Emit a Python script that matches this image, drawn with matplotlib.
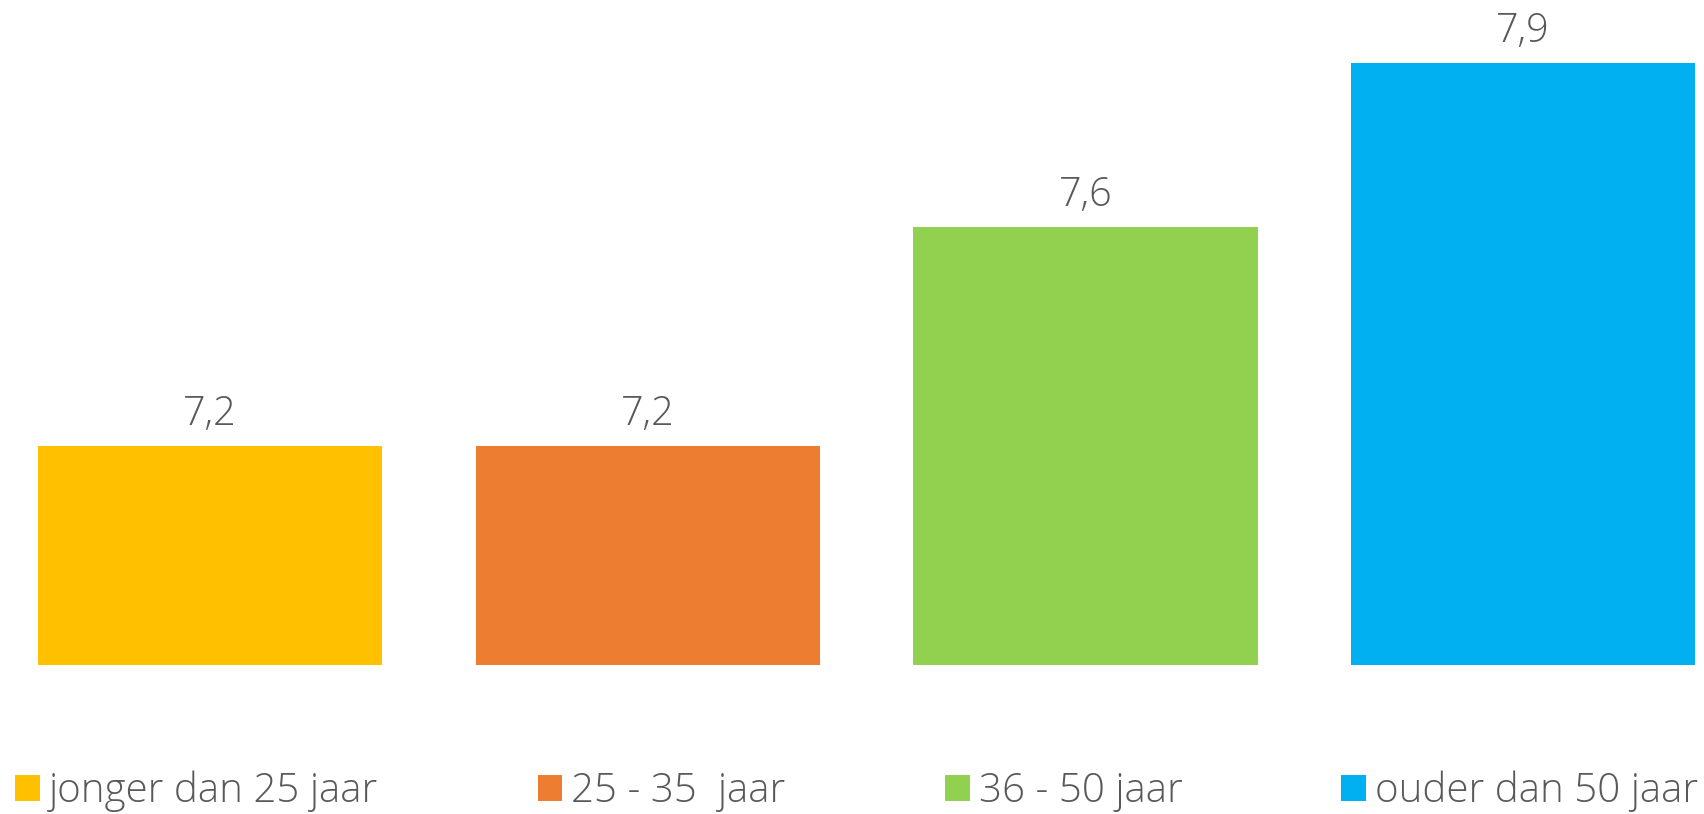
from matplotlib import pyplot as plt
from matplotlib.patches import Patch

categories = ['jonger dan 25 jaar', '25 - 35  jaar', '36 - 50 jaar', 'ouder dan 50 jaar']
values = [7.2, 7.2, 7.6, 7.9]
labels = ['7,2', '7,2', '7,6', '7,9']
colors = ['#FFC000', '#ED7D31', '#92D050', '#00B0F0']

plt.rcParams['font.family'] = ['Open Sans', 'DejaVu Sans']
text_color = '#595959'

fig = plt.figure(figsize=(17.04, 8.14), dpi=100)
ax = fig.add_axes([0, 1 - 665 / 814, 1, 665 / 814])

x = range(len(values))
ax.bar(x, [v - 6.8 for v in values], bottom=6.8, width=0.786, color=colors)
for i, (v, lab) in enumerate(zip(values, labels)):
    ax.annotate(lab, (i, v), xytext=(0, 15), textcoords='offset points',
                ha='center', va='baseline', fontsize=28.5, fontweight='light', color=text_color)

ax.set_xlim(-0.48, 3.413)
ax.set_ylim(6.8, 8.0146)
ax.axis('off')

handles = [Patch(facecolor=c, edgecolor='none') for c in colors]
fig.legend(handles, categories, ncol=4, loc='center left', bbox_to_anchor=(0.009, 0.028),
           frameon=False, labelcolor=text_color, handlelength=0.62, handleheight=0.62,
           handletextpad=0.22, columnspacing=3.95, borderpad=0, borderaxespad=0,
           prop={'weight': 'light', 'size': 29})

fig.savefig('out.png', dpi=100)
